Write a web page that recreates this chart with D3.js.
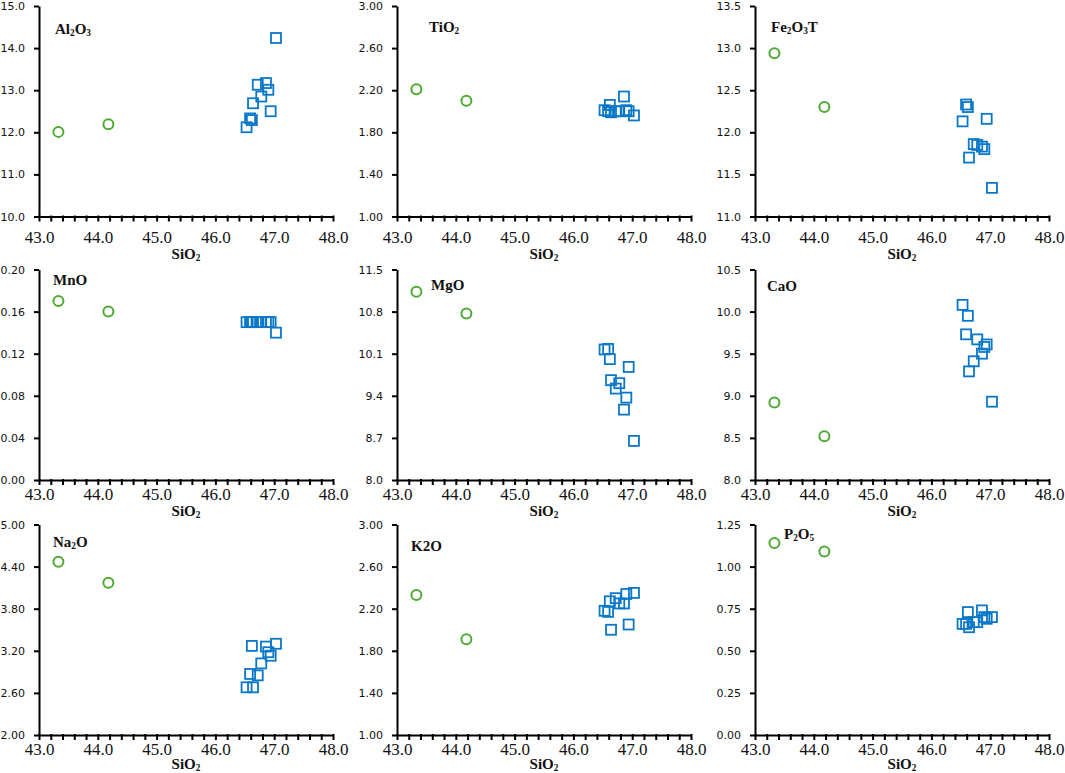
<!DOCTYPE html>
<html>
<head>
<meta charset="utf-8">
<script src="https://cdn.jsdelivr.net/npm/d3@7"></script>
<style>
  body { margin: 0; background: #fff; }
  svg { display: block; }
  .xaxis text { font-family: "Liberation Serif", serif; font-size: 17px; fill: #111; }
  .yaxis text { font-family: "DejaVu Sans", sans-serif; font-size: 11px; fill: #111; }
  .domain, .tick line { stroke: #000; stroke-width: 2px; }
  .lbl { font-family: "Liberation Serif", serif; font-weight: bold; font-size: 15px; fill: #111; }
</style>
</head>
<body>
<svg id="chart"></svg>
<script>
const width = 1065;
const height = 773;

// SiO2 of the two groups (x values)
const sio2Green = [43.33, 44.18];
const sio2Blue = [46.53, 46.59, 46.62, 46.64, 46.72, 46.78, 46.86, 46.90, 46.94, 47.03];
const xTicks = [43, 44, 45, 46, 47, 48];

// oxide values, green circles then blue squares
const al2o3Green = [12.01, 12.19];
const al2o3Blue = [12.12, 12.33, 12.29, 12.69, 13.13, 12.85, 13.17, 13.01, 12.50, 14.24];
const tio2Green = [2.21, 2.10];
const tio2Blue = [2.01, 2.00, 2.06, 1.99, 2.00, 2.00, 2.14, 2.01, 2.00, 1.96];
const fe2o3Green = [12.94, 12.30];
const fe2o3Blue = [12.13, 12.33, 12.30, 11.70, 11.86, 11.85, 11.83, 11.80, 12.16, 11.34];
const mnoGreen = [0.17, 0.16];
const mnoBlue = [0.15, 0.15, 0.15, 0.15, 0.15, 0.15, 0.15, 0.15, 0.15, 0.14];
const mgoGreen = [11.13, 10.77];
const mgoBlue = [10.17, 10.18, 10.01, 9.66, 9.52, 9.61, 9.17, 9.37, 9.88, 8.65];
const caoGreen = [8.92, 8.52];
const caoBlue = [10.08, 9.73, 9.95, 9.29, 9.41, 9.67, 9.50, 9.58, 9.61, 8.93];
const na2oGreen = [4.47, 4.17];
const na2oBlue = [2.68, 2.87, 3.27, 2.68, 2.85, 3.02, 3.26, 3.18, 3.13, 3.30];
const k2oGreen = [2.33, 1.91];
const k2oBlue = [2.18, 2.17, 2.27, 2.00, 2.30, 2.25, 2.25, 2.34, 2.05, 2.35];
const p2o5Green = [1.14, 1.09];
const p2o5Blue = [0.66, 0.66, 0.73, 0.64, 0.67, 0.67, 0.74, 0.70, 0.69, 0.70];

// y tick labels of each panel
const al2o3Ticks = [10, 11, 12, 13, 14, 15];
const tio2Ticks = [1.0, 1.4, 1.8, 2.2, 2.6, 3.0];
const fe2o3Ticks = [11.0, 11.5, 12.0, 12.5, 13.0, 13.5];
const mnoTicks = [0, 0.04, 0.08, 0.12, 0.16, 0.20];
const mgoTicks = [8.0, 8.7, 9.4, 10.1, 10.8, 11.5];
const caoTicks = [8.0, 8.5, 9.0, 9.5, 10.0, 10.5];
const na2oTicks = [2.0, 2.6, 3.2, 3.8, 4.4, 5.0];
const k2oTicks = [1.0, 1.4, 1.8, 2.2, 2.6, 3.0];
const p2o5Ticks = [0, 0.25, 0.5, 0.75, 1.0, 1.25];

// names, as [text, subscript] pieces
const names = [
  [["Al", false], ["2", true], ["O", false], ["3", true]],
  [["TiO", false], ["2", true]],
  [["Fe", false], ["2", true], ["O", false], ["3", true], ["T", false]],
  [["MnO", false]],
  [["MgO", false]],
  [["CaO", false]],
  [["Na", false], ["2", true], ["O", false]],
  [["K2O", false]],
  [["P", false], ["2", true], ["O", false], ["5", true]]
];

const panels = [
  { green: al2o3Green, blue: al2o3Blue, ticks: al2o3Ticks, fmt: ".1f" },
  { green: tio2Green, blue: tio2Blue, ticks: tio2Ticks, fmt: ".2f" },
  { green: fe2o3Green, blue: fe2o3Blue, ticks: fe2o3Ticks, fmt: ".1f" },
  { green: mnoGreen, blue: mnoBlue, ticks: mnoTicks, fmt: ".2f" },
  { green: mgoGreen, blue: mgoBlue, ticks: mgoTicks, fmt: ".1f" },
  { green: caoGreen, blue: caoBlue, ticks: caoTicks, fmt: ".1f" },
  { green: na2oGreen, blue: na2oBlue, ticks: na2oTicks, fmt: ".2f" },
  { green: k2oGreen, blue: k2oBlue, ticks: k2oTicks, fmt: ".2f" },
  { green: p2o5Green, blue: p2o5Blue, ticks: p2o5Ticks, fmt: ".2f" }
];

// layout
const colLeft = [39, 397, 755];
const rowTop = [6, 269.5, 524.5];
const plotW = 294;
const plotH = 210.5;
const nameOffset = [[16, 28], [32, 26], [16, 26], [14, 15], [34, 20], [12, 21], [14, 22], [14, 26], [29, 14]];
const xLabelPad = [9, 3, 3];
const xTitleY = [42, 36, 34];

const svg = d3.select("#chart").attr("width", width).attr("height", height);

function writeParts(sel, parts, size) {
  parts.forEach(([t, sub]) => {
    sel.append("tspan")
       .attr("font-size", sub ? size * 0.62 : size)
       .attr("baseline-shift", sub ? "-22%" : null)
       .text(t);
  });
}

panels.forEach((p, i) => {
  const col = i % 3, row = Math.floor(i / 3);
  const g = svg.append("g").attr("transform", `translate(${colLeft[col]},${rowTop[row]})`);

  const x = d3.scaleLinear().domain([43, 48]).range([0, plotW]);
  const y = d3.scaleLinear().domain(d3.extent(p.ticks)).range([plotH, 0]);

  // x axis: minor ticks every 0.2, labels on whole numbers
  const minor = d3.range(0, 26).map(k => 43 + k * 0.2);
  const xa = g.append("g")
   .attr("class", "xaxis")
   .attr("transform", `translate(0,${plotH})`)
   .call(d3.axisBottom(x).tickValues(minor).tickSize(5).tickSizeOuter(0).tickPadding(xLabelPad[row])
          .tickFormat(d => xTicks.some(t => Math.abs(t - d) < 1e-6) ? d.toFixed(1) : ""));
  xa.selectAll(".tick line").attr("y1", -1);

  g.append("g")
   .attr("class", "yaxis")
   .call(d3.axisLeft(y).tickValues(p.ticks).tickSize(5).tickSizeOuter(0).tickPadding(9)
          .tickFormat(d3.format(p.fmt)));

  // x title
  const xt = g.append("text").attr("class", "lbl")
              .attr("x", plotW / 2).attr("y", plotH + xTitleY[row])
              .attr("text-anchor", "middle");
  writeParts(xt, [["SiO", false], ["2", true]], 15);

  // panel name
  const nt = g.append("text").attr("class", "lbl")
              .attr("x", nameOffset[i][0]).attr("y", nameOffset[i][1]);
  writeParts(nt, names[i], 15);

  // points
  g.selectAll("circle")
   .data(sio2Green.map((s, k) => [s, p.green[k]]))
   .join("circle")
   .attr("cx", d => x(d[0]))
   .attr("cy", d => y(d[1]))
   .attr("r", 5)
   .attr("fill", "none")
   .attr("stroke", "#4eaa32")
   .attr("stroke-width", 2);

  g.selectAll("rect")
   .data(sio2Blue.map((s, k) => [s, p.blue[k]]))
   .join("rect")
   .attr("x", d => x(d[0]) - 5)
   .attr("y", d => y(d[1]) - 5)
   .attr("width", 10)
   .attr("height", 10)
   .attr("fill", "none")
   .attr("stroke", "#0a78c8")
   .attr("stroke-width", 1.8);
});
</script>
</body>
</html>
